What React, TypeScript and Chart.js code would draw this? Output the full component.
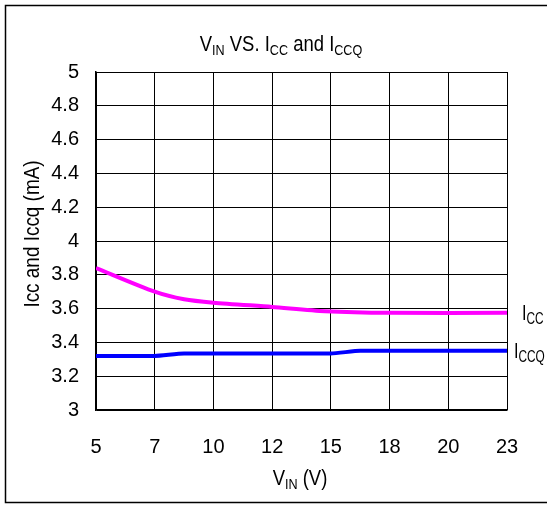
import React, { useEffect, useRef } from 'react';
import { Chart, registerables } from 'chart.js';

Chart.register(...registerables);

const FONT = "'Liberation Sans', Arial, sans-serif";

const xTickLabels = ['5', '7', '10', '12', '15', '18', '20', '23'];
const yMin = 3;
const yMax = 5;
const yStep = 0.2;

// x given as position along the (evenly spaced) VIN tick index
const iccX = [0, 1, 1.5, 2, 3, 3.9, 5, 7];
const iccY = [3.84, 3.7, 3.655, 3.635, 3.61, 3.585, 3.575, 3.575];
const iccqX = [0, 1, 1.5, 4, 4.5, 7];
const iccqY = [3.32, 3.32, 3.335, 3.335, 3.35, 3.35];

type Part = { t: string; sub?: boolean };

function drawRich(
  ctx: CanvasRenderingContext2D,
  parts: Part[],
  x: number,
  y: number,
  size: number,
  align: 'center' | 'left',
  sx = 0.82,
  subRatio = 0.68,
) {
  const subSize = Math.round(size * subRatio);
  const widths = parts.map((p) => {
    ctx.font = `${p.sub ? subSize : size}px ${FONT}`;
    return ctx.measureText(p.t).width;
  });
  const total = widths.reduce((a, b) => a + b, 0);
  ctx.save();
  ctx.translate(x, y);
  ctx.scale(sx, 1);
  let cx = align === 'center' ? -total / 2 : 0;
  ctx.textAlign = 'left';
  ctx.textBaseline = 'alphabetic';
  parts.forEach((p, i) => {
    ctx.font = `${p.sub ? subSize : size}px ${FONT}`;
    ctx.fillText(p.t, cx, p.sub ? size * 0.18 : 0);
    cx += widths[i];
  });
  ctx.restore();
}

const decorPlugin = {
  id: 'decor',
  afterDraw(chart: any) {
    const ctx: CanvasRenderingContext2D = chart.ctx;
    ctx.save();
    ctx.fillStyle = '#000';
    ctx.strokeStyle = '#000';
    ctx.lineWidth = 1.5;
    ctx.strokeRect(5.5, 5.5, 580, 497);

    drawRich(ctx, [{ t: 'V' }, { t: 'IN', sub: true }, { t: ' VS. I' }, { t: 'CC', sub: true }, { t: ' and I' }, { t: 'CCQ', sub: true }], 281, 51, 22, 'center', 0.84);

    drawRich(ctx, [{ t: 'V' }, { t: 'IN', sub: true }, { t: ' (V)' }], 300, 485, 22, 'center', 0.84);

    drawRich(ctx, [{ t: 'I' }, { t: 'CC', sub: true }], 522, 320, 22, 'left', 0.74, 0.72);
    drawRich(ctx, [{ t: 'I' }, { t: 'CCQ', sub: true }], 514, 358, 22, 'left', 0.74, 0.72);

    ctx.save();
    ctx.translate(39, 234);
    ctx.rotate(-Math.PI / 2);
    drawRich(ctx, [{ t: 'I' }, { t: 'cc' }, { t: ' and I' }, { t: 'ccq' }, { t: ' (mA)' }], 0, 0, 22, 'center', 0.86);
    ctx.restore();
    ctx.restore();
  },
};

export default function App() {
  const ref = useRef<HTMLCanvasElement>(null);
  useEffect(() => {
    if (!ref.current) return;
    const chart = new Chart(ref.current, {
      type: 'line',
      data: {
        datasets: [
          {
            label: 'ICC',
            data: iccX.map((x, i) => ({ x, y: iccY[i] })),
            borderColor: '#FF00FF',
            borderWidth: 4,
            pointRadius: 0,
            tension: 0.25,
            fill: false,
          },
          {
            label: 'ICCQ',
            data: iccqX.map((x, i) => ({ x, y: iccqY[i] })),
            borderColor: '#0000FF',
            borderWidth: 4,
            pointRadius: 0,
            tension: 0.2,
            fill: false,
          },
        ],
      },
      options: {
        animation: false,
        responsive: true,
        maintainAspectRatio: false,
        layout: { padding: { left: 0, top: 72, right: 40, bottom: 0 } },
        plugins: { legend: { display: false }, tooltip: { enabled: false }, title: { display: false } },
        scales: {
          x: {
            type: 'linear',
            min: 0,
            max: xTickLabels.length - 1,
            afterFit: (s: any) => { s.height = 95; },
            afterBuildTicks: (s: any) => { s.ticks = xTickLabels.map((_, i) => ({ value: i })); },
            ticks: {
              stepSize: 1,
              padding: 25,
              color: '#000',
              font: { family: FONT, size: 20 },
              maxRotation: 0,
              callback: (v: any) => xTickLabels[Math.round(Number(v))] ?? '',
            },
            grid: { color: '#000', lineWidth: 1, drawTicks: false },
            border: { display: true, color: '#000', width: 1.5 },
          },
          y: {
            type: 'linear',
            min: yMin,
            max: yMax,
            afterFit: (s: any) => { s.width = 96; },
            ticks: {
              stepSize: yStep,
              padding: 17,
              color: '#000',
              font: { family: FONT, size: 20 },
              callback: (v: any) => String(Math.round(Number(v) * 10) / 10),
            },
            grid: { color: '#000', lineWidth: 1, drawTicks: false },
            border: { display: true, color: '#000', width: 1.5 },
          },
        },
      },
      plugins: [decorPlugin],
    } as any);
    return () => chart.destroy();
  }, []);
  return (
    <div style={{ position: 'absolute', left: 0, top: 0, width: 547, height: 505, background: '#fff' }}>
      <canvas ref={ref} />
    </div>
  );
}
